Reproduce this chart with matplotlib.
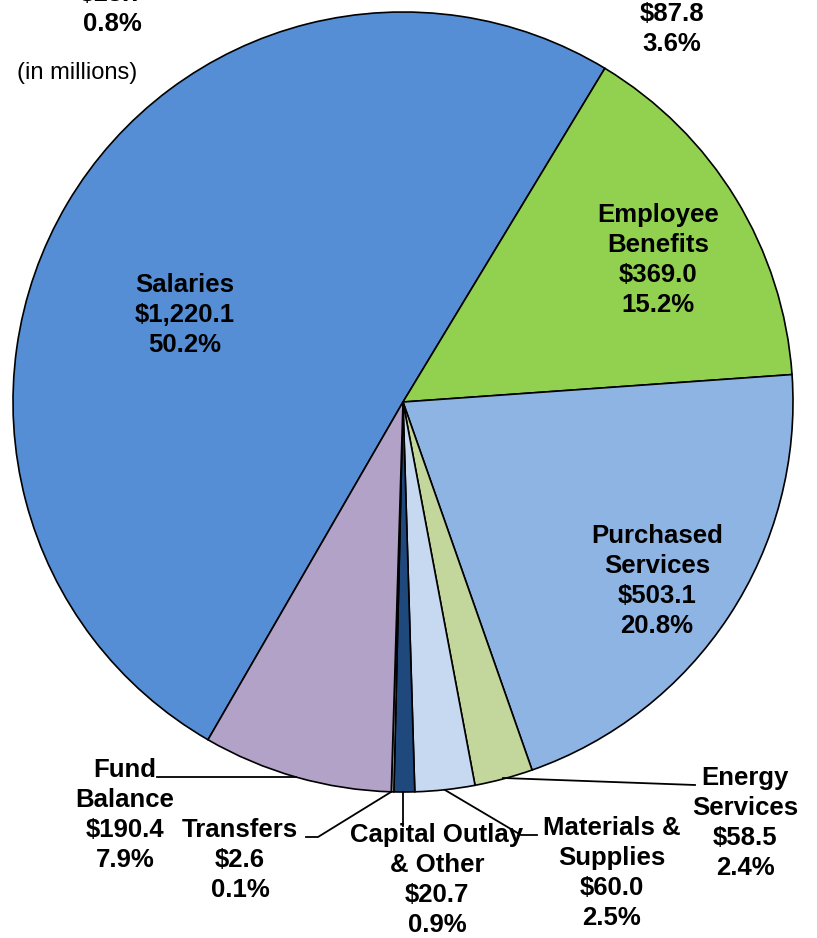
import matplotlib
matplotlib.use('Agg')
import matplotlib.pyplot as plt

# chart data (in millions), clockwise from lower left
categories = ['Salaries', 'Employee\nBenefits', 'Purchased\nServices', 'Energy\nServices',
              'Materials &\nSupplies', 'Capital Outlay\n& Other', 'Transfers', 'Fund\nBalance']
amounts = [1220.1, 369.0, 503.1, 58.5, 60.0, 20.7, 2.6, 190.4]
amount_labels = ['$1,220.1', '$369.0', '$503.1', '$58.5', '$60.0', '$20.7', '$2.6', '$190.4']
pct_labels = ['50.2%', '15.2%', '20.8%', '2.4%', '2.5%', '0.9%', '0.1%', '7.9%']
colors = ['#558ED5', '#92D050', '#8EB4E3', '#C3D69B', '#C6D9F1', '#1F497D', '#A6A6A6', '#B3A2C7']

W, H = 817, 938
plt.rcParams['font.family'] = ['Liberation Sans', 'DejaVu Sans']
FS = 18.5
LS = 1.33

fig = plt.figure(figsize=(W / 100, H / 100), dpi=100)
ax = fig.add_axes([0, 0, 1, 1])

# convert picture pixel position to data coords
def P(x, y):
    return (x, H - y)

cx, cy = P(403, 402)
ax.pie(amounts, colors=colors, startangle=240, counterclock=False,
       center=(cx, cy), radius=390, frame=True,
       wedgeprops=dict(edgecolor='black', linewidth=1.2))
ax.set_xlim(0, W)
ax.set_ylim(0, H)
ax.set_aspect('equal')
ax.axis('off')

# label positions (center of text block), in pixels
label_pos = [(185, 315), (658, 260), (657, 581), (745, 823),
             (612, 873), (437, 880), (240, 860), (125, 815)]

for cat, amt, pct, (x, y) in zip(categories, amount_labels, pct_labels, label_pos):
    ax.text(*P(x, y), cat + '\n' + amt + '\n' + pct, ha='center', va='center',
            fontsize=FS, fontweight='bold', linespacing=LS)

# leader lines
leaders = [
    [(157, 777), (296, 777)],                # Fund Balance
    [(306, 837), (318, 837), (391, 792)],    # Transfers
    [(403, 826), (403, 792)],                # Capital Outlay
    [(537, 835), (521, 835), (445, 790)],    # Materials
    [(695, 785), (503, 778)],                # Energy
]
for pts in leaders:
    xs = [p[0] for p in pts]
    ys = [H - p[1] for p in pts]
    ax.plot(xs, ys, color='black', linewidth=1.3)

ax.text(*P(77, 73), '(in millions)', ha='center', va='center', fontsize=17)

# labels of the chart above, cut off at the top edge
ax.text(*P(112, 9), '$18.7\n0.8%', ha='center', va='center',
        fontsize=FS, fontweight='bold', linespacing=LS)
ax.text(*P(672, 29), '$87.8\n3.6%', ha='center', va='center',
        fontsize=FS, fontweight='bold', linespacing=LS)

fig.savefig('out.png', dpi=100)
